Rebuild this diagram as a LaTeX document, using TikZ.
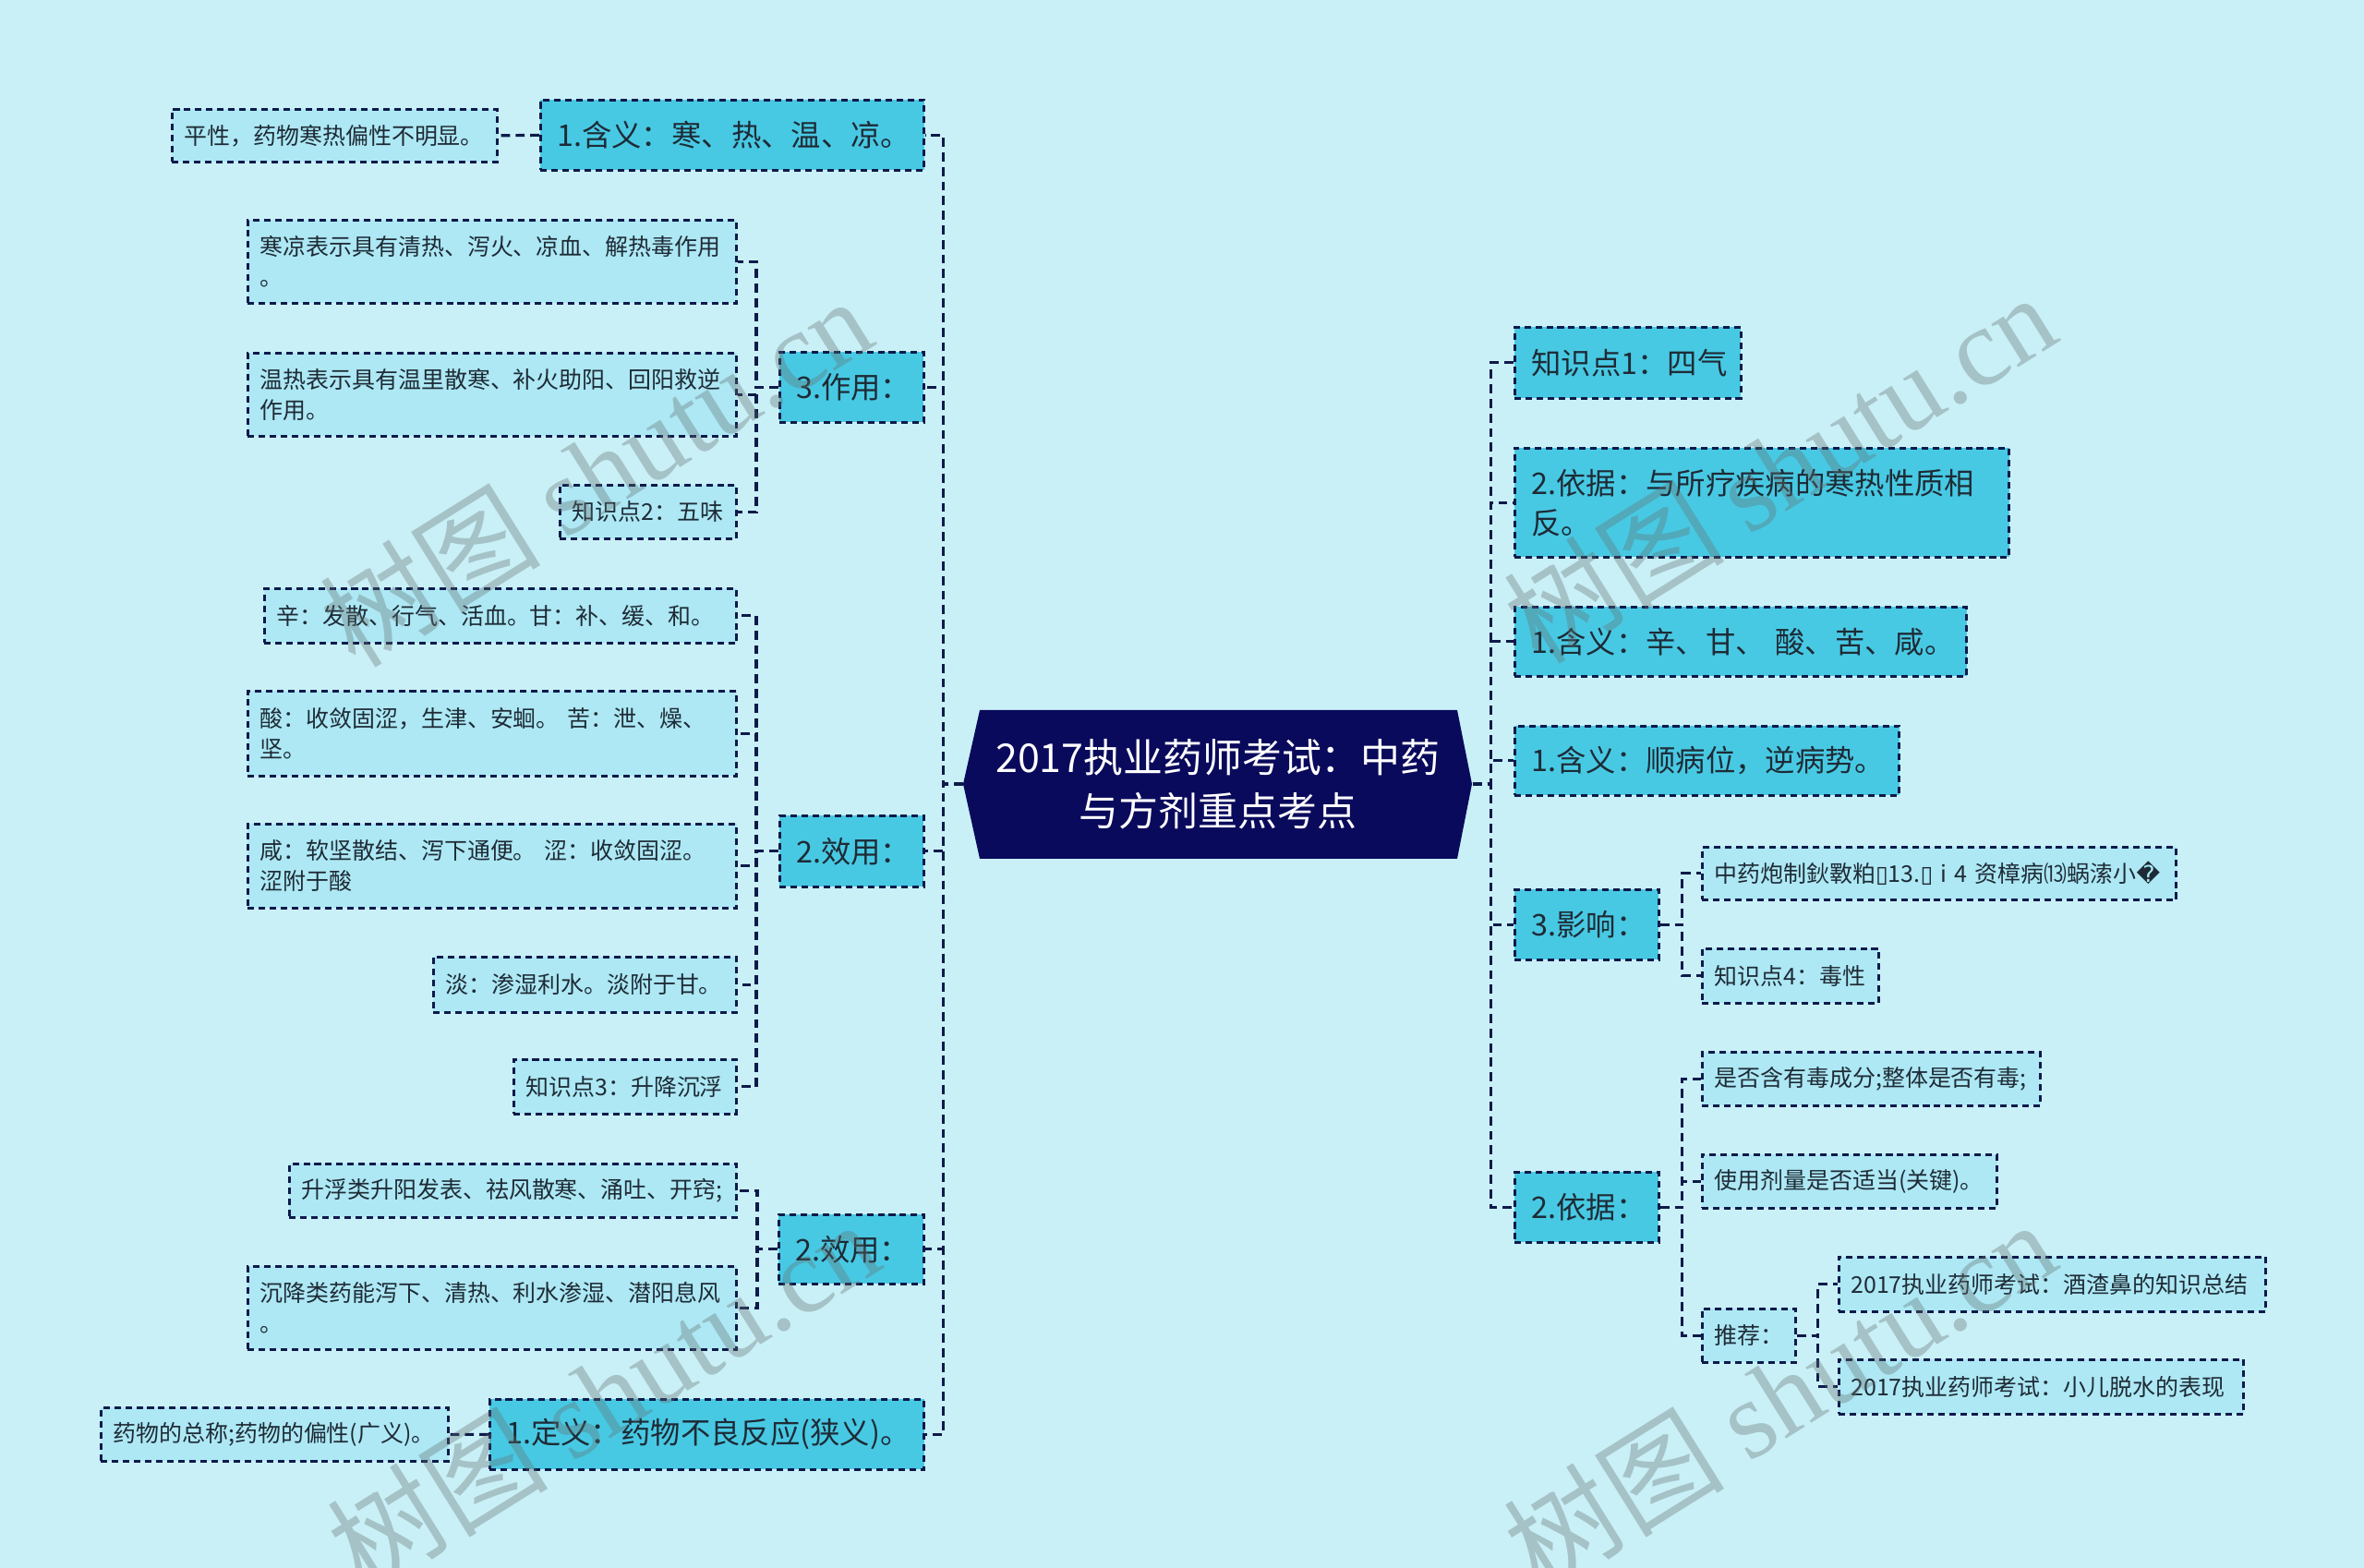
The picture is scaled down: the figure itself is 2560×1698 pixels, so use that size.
\documentclass[tikz,border=0pt]{standalone}
\usepackage{fontspec}
\setmainfont{Noto Sans CJK SC}
\newfontfamily\dejavu{DejaVu Sans}
\newfontfamily\wmlatin{Liberation Serif}
\definecolor{bgc}{HTML}{C9F0F7}
\definecolor{cOne}{HTML}{48C9E3}
\definecolor{cTwo}{HTML}{ADE8F4}
\definecolor{cNavy}{HTML}{0E1A4A}
\definecolor{cCenter}{HTML}{0A0A5C}
\definecolor{cTxt}{HTML}{1E2B36}
\definecolor{cWm}{RGB}{100,110,110}
\tikzset{
  nbox/.style={draw=cNavy, line width=0.75pt, dash pattern=on 2pt off 1.4pt,
    anchor=north west, inner ysep=0pt, align=left, text=cTxt},
  lone/.style={nbox, fill=cOne, inner xsep=0.18cm, font=\fontsize{9.2}{12.2}\selectfont},
  ltwo/.style={nbox, fill=cTwo, inner xsep=0.13cm, font=\fontsize{7.1}{9.4}\selectfont},
  conn/.style={draw=cNavy, line width=0.9pt, dash pattern=on 2.8pt off 1.7pt},
  wmark/.style={text=cWm, opacity=0.35, rotate=32, font=\fontsize{34}{40}\selectfont},
}
\begin{document}
\begin{tikzpicture}[x=0.01cm,y=-0.01cm]
\fill[bgc] (0,0) rectangle (2560,1698);
\useasboundingbox (0,0) rectangle (2560,1698);
% centre
\fill[cCenter] (1043,849) -- (1061,769) -- (1578,769) -- (1594,849) -- (1578,930) -- (1061,930) -- cycle;
\node[text=white, align=center, minimum width=5.5cm, minimum height=1.6cm, inner sep=0pt,
  font=\fontsize{12.2}{16.5}\selectfont] (c) at (1319,849) {2017执业药师考试：中药\\与方剂重点考点};
% left side
\node[lone, text width=3.79cm, minimum height=0.76cm] (A1) at (584,107) {1.含义：寒、热、温、凉。};
\node[ltwo, text width=3.26cm, minimum height=0.57cm] (A1a) at (185,117) {平性，药物寒热偏性不明显。};
\node[lone, text width=1.20cm, minimum height=0.76cm] (A2) at (843,380) {3.作用：};
\node[ltwo, text width=5.03cm, minimum height=0.90cm] (A2a) at (267,237) {寒凉表示具有清热、泻火、凉血、解热毒作用\\。};
\node[ltwo, text width=5.03cm, minimum height=0.90cm] (A2b) at (267,381) {温热表示具有温里散寒、补火助阳、回阳救逆\\作用。};
\node[ltwo, text width=1.65cm, minimum height=0.58cm] (A2c) at (605,524) {知识点2：五味};
\node[lone, text width=1.20cm, minimum height=0.77cm] (A3) at (843,882) {2.效用：};
\node[ltwo, text width=4.85cm, minimum height=0.59cm] (A3a) at (285,636) {辛：发散、行气、活血。甘：补、缓、和。};
\node[ltwo, text width=5.03cm, minimum height=0.92cm] (A3b) at (267,747) {酸：收敛固涩，生津、安蛔。~苦：泄、燥、\\坚。};
\node[ltwo, text width=5.03cm, minimum height=0.91cm] (A3c) at (267,891) {咸：软坚散结、泻下通便。~涩：收敛固涩。\\涩附于酸};
\node[ltwo, text width=3.02cm, minimum height=0.60cm] (A3d) at (468,1035) {淡：渗湿利水。淡附于甘。};
\node[ltwo, text width=2.15cm, minimum height=0.59cm] (A3e) at (555,1146) {知识点3：升降沉浮};
\node[lone, text width=1.21cm, minimum height=0.75cm] (A4) at (842,1314) {2.效用：};
\node[ltwo, text width=4.58cm, minimum height=0.58cm] (A4a) at (312,1259) {升浮类升阳发表、祛风散寒、涌吐、开窍;};
\node[ltwo, text width=5.03cm, minimum height=0.90cm] (A4b) at (267,1370) {沉降类药能泻下、清热、利水渗湿、潜阳息风\\。};
\node[lone, text width=4.34cm, minimum height=0.76cm] (A5) at (529,1514) {1.定义：药物不良反应(狭义)。};
\node[ltwo, text width=3.50cm, minimum height=0.58cm] (A5a) at (108,1523) {药物的总称;药物的偏性(广义)。};
% right side
\node[lone, text width=2.09cm, minimum height=0.77cm] (B1) at (1639,353) {知识点1：四气};
\node[lone, text width=4.99cm, minimum height=1.18cm] (B2) at (1639,484) {2.依据：与所疗疾病的寒热性质相\\反。};
\node[lone, text width=4.53cm, minimum height=0.75cm] (B3) at (1639,656) {1.含义：辛、甘、~酸、苦、咸。};
\node[lone, text width=3.80cm, minimum height=0.75cm] (B4) at (1639,785) {1.含义：顺病位，逆病势。};
\node[lone, text width=1.20cm, minimum height=0.76cm] (B5) at (1639,962) {3.影响：};
\node[ltwo, text width=4.87cm, minimum height=0.57cm] (B5a) at (1842,916) {中药炮制鈥斁粕{\dejavu ▯}13.{\dejavu ▯}~i~4~资樟病⒀蜗溹小{\dejavu �}};
\node[ltwo, text width=1.65cm, minimum height=0.59cm] (B5b) at (1842,1026) {知识点4：毒性};
\node[lone, text width=1.20cm, minimum height=0.76cm] (B6) at (1639,1268) {2.依据：};
\node[ltwo, text width=3.40cm, minimum height=0.58cm] (B6a) at (1842,1138) {是否含有毒成分;整体是否有毒;};
\node[ltwo, text width=2.93cm, minimum height=0.58cm] (B6b) at (1842,1249) {使用剂量是否适当(关键)。};
\node[ltwo, text width=0.75cm, minimum height=0.58cm] (B6c) at (1842,1416) {推荐：};
\node[ltwo, text width=4.36cm, minimum height=0.59cm] (B6c1) at (1990,1360) {2017执业药师考试：酒渣鼻的知识总结};
\node[ltwo, text width=4.12cm, minimum height=0.59cm] (B6c2) at (1990,1471) {2017执业药师考试：小儿脱水的表现};
% connectors
\foreach \n in {A1,A2,A3,A4,A5} \draw[conn] (c.west) -- ++(-22,0) |- (\n.east);
\foreach \n in {B1,B2,B3,B4,B5,B6} \draw[conn] (c.east) -- ++(20,0) |- (\n.west);
\draw[conn] (A1.west) -- (A1a.east);
\draw[conn] (A5.west) -- (A5a.east);
\foreach \n in {A2a,A2b,A2c} \draw[conn] (A2.west) -- ++(-24,0) |- (\n.east);
\foreach \n in {A3a,A3b,A3c,A3d,A3e} \draw[conn] (A3.west) -- ++(-24,0) |- (\n.east);
\foreach \n in {A4a,A4b} \draw[conn] (A4.west) -- ++(-22,0) |- (\n.east);
\foreach \n in {B5a,B5b} \draw[conn] (B5.east) -- ++(24,0) |- (\n.west);
\foreach \n in {B6a,B6b,B6c} \draw[conn] (B6.east) -- ++(24,0) |- (\n.west);
\foreach \n in {B6c1,B6c2} \draw[conn] (B6c.east) -- ++(23,0) |- (\n.west);
% watermarks
\node[wmark] (w1) at (645,510) {树图 {\wmlatin shutu.cn}};
\node[wmark] (w2) at (653,1510) {树图 {\wmlatin shutu.cn}};
\node[wmark] (w3) at (1927,506) {树图 {\wmlatin shutu.cn}};
\node[wmark] (w4) at (1927,1510) {树图 {\wmlatin shutu.cn}};
\end{tikzpicture}
\end{document}
